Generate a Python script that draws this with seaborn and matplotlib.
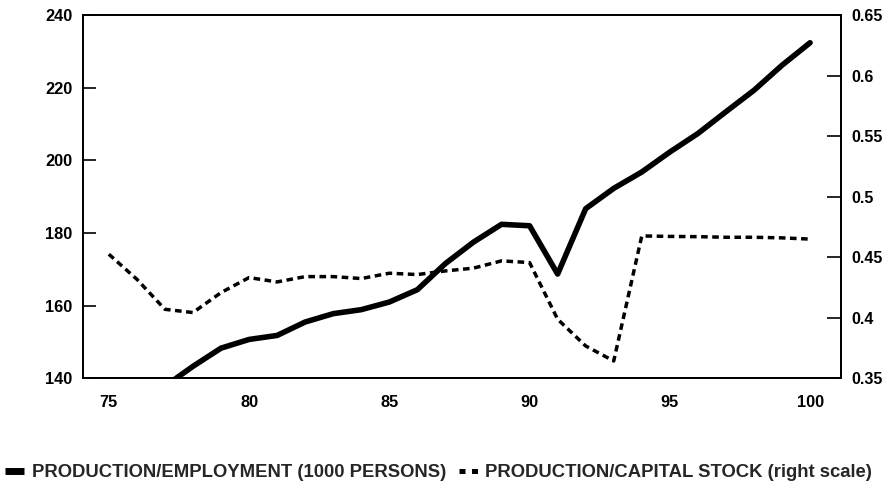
import matplotlib
matplotlib.use("Agg")
import matplotlib.pyplot as plt
import seaborn as sns
import pandas as pd
from matplotlib.lines import Line2D

sns.set_style("white")
plt.rcParams['font.family'] = ['Liberation Sans', 'DejaVu Sans']

# Production / employment (left scale)
emp_years = [77, 78, 79, 80, 81, 82, 83, 84, 85, 86, 87, 88, 89, 90, 91,
             92, 93, 94, 95, 96, 97, 98, 99, 100]
emp_values = [137.8, 143.3, 148.3, 150.7, 151.8, 155.5, 157.8, 158.9, 161.0,
              164.4, 171.6, 177.5, 182.4, 182.0, 168.7, 186.7, 192.3, 196.8,
              202.3, 207.4, 213.4, 219.3, 226.2, 232.4]

# Production / capital stock (right scale)
cap_years = [75, 76, 77, 78, 79, 80, 81, 82, 83, 84, 85, 86, 87, 88, 89, 90,
             91, 92, 93, 94, 95, 96, 97, 98, 99, 100]
cap_values = [0.4525, 0.4318, 0.407, 0.4043, 0.4208, 0.4332, 0.4296, 0.434,
              0.434, 0.4324, 0.4368, 0.4357, 0.4387, 0.441, 0.447, 0.4456,
              0.3988, 0.3767, 0.3643, 0.4676, 0.4672, 0.467, 0.4665, 0.4665,
              0.466, 0.465]

left_ticks = [140, 160, 180, 200, 220, 240]
right_ticks = [0.35, 0.4, 0.45, 0.5, 0.55, 0.6, 0.65]
right_labels = ["0.35", "0.4", "0.45", "0.5", "0.55", "0.6", "0.65"]
x_label_years = [75, 80, 85, 90, 95, 100]

label_emp = "PRODUCTION/EMPLOYMENT (1000 PERSONS)"
label_cap = "PRODUCTION/CAPITAL STOCK (right scale)"

df_emp = pd.DataFrame({"year": emp_years, "value": emp_values})
df_cap = pd.DataFrame({"year": cap_years, "value": cap_values})

fig = plt.figure(figsize=(8.88, 4.88), dpi=100)
ax = fig.add_axes([0.0938, 0.2248, 0.947 - 0.0938, 0.969 - 0.2248])
ax2 = ax.twinx()

sns.lineplot(data=df_emp, x="year", y="value", ax=ax, color="black",
             linewidth=4.0, legend=False)
sns.lineplot(data=df_cap, x="year", y="value", ax=ax2, color="black",
             linewidth=2.5, dashes=False, legend=False)
ax2.lines[0].set_dashes([1.9, 1.3])

ax.set_xlim(74.09, 101.1)
ax.set_ylim(140, 240)
ax2.set_ylim(0.35, 0.65)

ax.set_xlabel("")
ax.set_ylabel("")
ax2.set_xlabel("")
ax2.set_ylabel("")

ax.set_xticks(list(range(75, 101)))
ax.set_xticklabels([str(y) if y in x_label_years else "" for y in range(75, 101)])
ax.set_yticks(left_ticks)
ax.set_yticklabels([str(v) for v in left_ticks])
ax2.set_yticks(right_ticks)
ax2.set_yticklabels(right_labels)

ax.tick_params(axis="x", direction="in", length=6.5, width=1.2, pad=12,
               labelsize=11.8, colors="black")
ax.tick_params(axis="y", direction="in", length=9.6, width=1.2, pad=8,
               labelsize=11.8, colors="black")
ax2.tick_params(axis="y", direction="in", length=10, width=1.2, pad=7.5,
                labelsize=11.5, colors="black")
for lab in ax.get_xticklabels() + ax.get_yticklabels() + ax2.get_yticklabels():
    lab.set_fontweight("bold")

for a in (ax, ax2):
    for s in a.spines.values():
        s.set_visible(True)
        s.set_color("black")
        s.set_linewidth(1.3)

handles = [
    Line2D([0], [0], color="black", linewidth=5.0, solid_capstyle="butt"),
    Line2D([0], [0], color="black", linewidth=3.6, dashes=[1.2, 1.3],
           dash_capstyle="butt"),
]
fig.legend(handles, [label_emp, label_cap], loc="center",
           bbox_to_anchor=(0.494, 0.031), ncol=2, frameon=False,
           handlelength=1.03, handletextpad=0.4, columnspacing=0.7,
           borderaxespad=0, borderpad=0,
           prop={"size": 13.3, "weight": "bold"})

fig.savefig("out.png", dpi=100)
